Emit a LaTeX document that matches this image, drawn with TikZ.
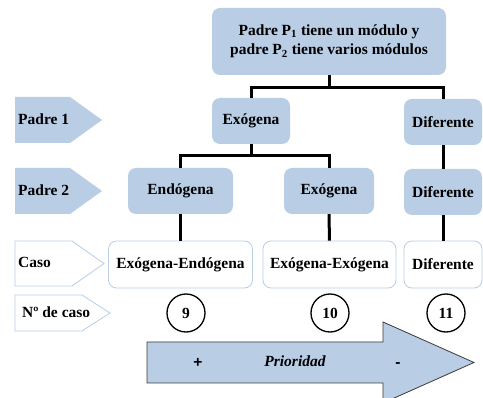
\documentclass[tikz,border=0pt]{standalone}
\usepackage{fontspec}
\setmainfont{Liberation Serif}
\newfontfamily\signfont{Liberation Sans}
\usetikzlibrary{positioning}
\definecolor{boxblue}{HTML}{B9CDE5}
\definecolor{edgegray}{HTML}{3A3A3A}

\begin{document}
\begin{tikzpicture}[x=1pt, y=-1pt,
  every node/.style={font=\fontsize{15.5}{19.5}\selectfont\bfseries},
  blk/.style={fill=boxblue, rounded corners=8pt, align=center, minimum height=46pt},
  cas/.style={draw=boxblue, fill=white, rounded corners=8pt, minimum height=47pt, line width=0.8pt},
  num/.style={draw, circle, line width=1.3pt, minimum size=38pt, inner sep=0pt},
  tab/.style={fill=boxblue},
  tabw/.style={draw=boxblue, fill=white, line width=0.8pt},
  lab/.style={anchor=west, inner sep=0pt},
  lnk/.style={line width=3pt}]

  \useasboundingbox (0,0) rectangle (483,398);

  % row labels on the left
  \fill[tab] (15,97) -- (70,97) -- (102,120) -- (70,143) -- (15,143) -- cycle;
  \fill[tab] (15,168) -- (70,168) -- (102,191) -- (70,214) -- (15,214) -- cycle;
  \draw[tabw] (15,241) -- (72,241) -- (104,263.5) -- (72,286) -- (15,286) -- cycle;
  \draw[tabw] (15,295) -- (82,295) -- (110,313) -- (82,331) -- (15,331) -- cycle;
  \node[lab] (p1lab) at (18,119) {Padre 1};
  \node[lab] (p2lab) at (18,190) {Padre 2};
  \node[lab] (caslab) at (18,262) {Caso};
  \node[lab] (numlab) at (22,312) {Nº de caso};

  % tree
  \node[blk, minimum width=234pt, minimum height=67pt] (top) at (329,41.5)
    {Padre P\textsubscript{1} tiene un módulo y\\padre P\textsubscript{2} tiene varios módulos};
  \node[blk, minimum width=78pt] (exo1) at (251,121) {Exógena};
  \node[blk, minimum width=78pt] (dif1) at (443,122) {Diferente};
  \node[blk, minimum width=105pt] (endo) at (180.5,191) {Endógena};
  \node[blk, minimum width=90pt] (exo2) at (329,191) {Exógena};
  \node[blk, minimum width=78pt] (dif2) at (443,192) {Diferente};

  \node[cas, minimum width=144pt] (c1) at (180.5,264.5) {Exógena-Endógena};
  \node[cas, minimum width=133pt] (c2) at (329.5,264.5) {Exógena-Exógena};
  \node[cas, minimum width=78pt] (c3) at (443,264.5) {Diferente};

  \node[num] (n9) at (186,313) {9};
  \node[num] (n10) at (330,313) {10};
  \node[num] (n11) at (446,313) {11};

  \draw[lnk] (top.south) -- +(0,12) -| (exo1.north);
  \draw[lnk] (top.south) -- +(0,12) -| (dif1.north);
  \draw[lnk] (exo1.south) -- +(0,11) -| (endo.north);
  \draw[lnk] (exo1.south) -- +(0,11) -| (exo2.north);
  \draw[lnk] (dif1) -- (dif2);
  \draw[lnk] (endo) -- (c1);
  \draw[lnk] (exo2) -- (c2);
  \draw[lnk] (dif2) -- (c3);

  % priority arrow
  \draw[edgegray, fill=boxblue, line width=0.8pt] (147,342) -- (383,342) -- (383,322)
    -- (474,362.5) -- (383,403) -- (383,383) -- (147,383) -- cycle;
  \node (plus) at (198,363) {\signfont +};
  \node (prio) at (295,361) {\itshape Prioridad};
  \node (minus) at (398,365) {\signfont -};
\end{tikzpicture}
\end{document}
